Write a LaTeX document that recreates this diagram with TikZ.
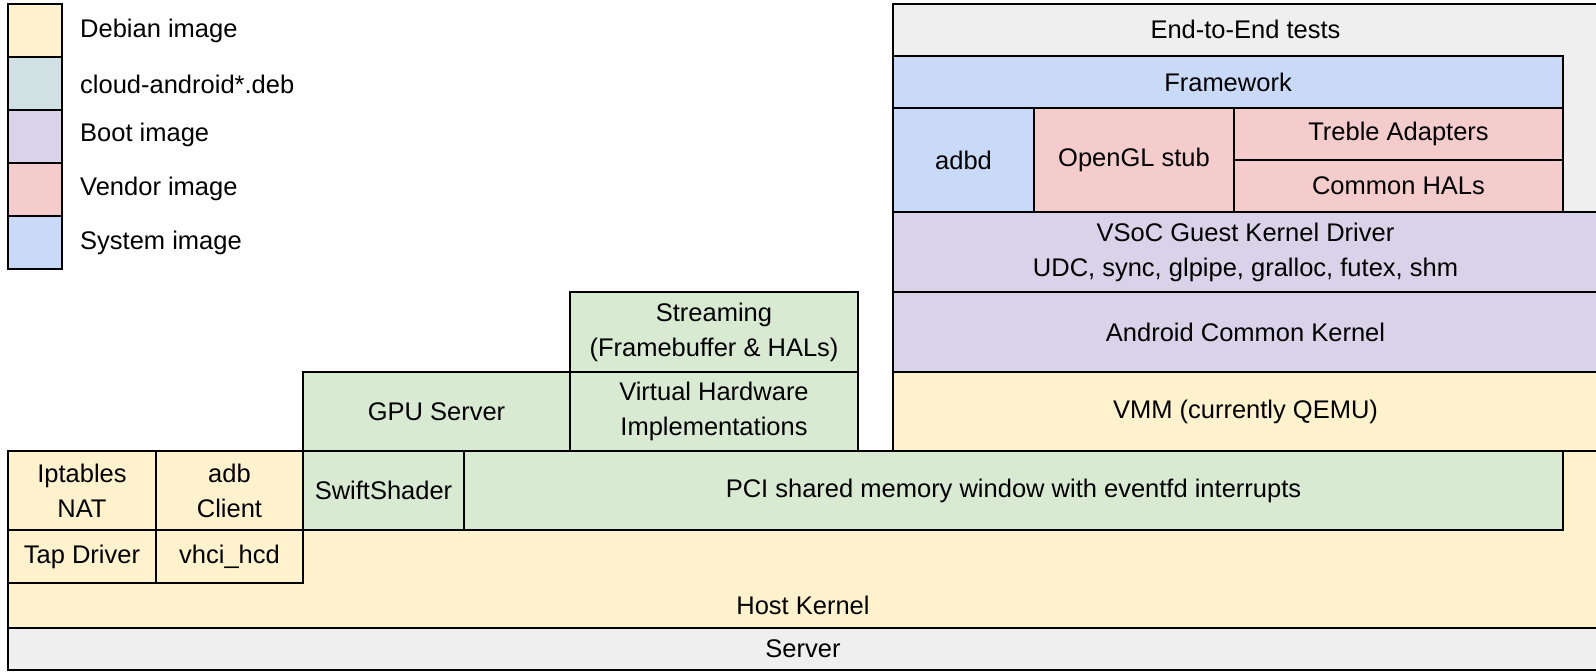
\documentclass[tikz,border=0pt]{standalone}
\usepackage{fontspec}
\setmainfont{Liberation Sans}
\definecolor{debian}{HTML}{FFF2CC}
\definecolor{clouddeb}{HTML}{D0E0E3}
\definecolor{hostpkg}{HTML}{D9EAD3}
\definecolor{boot}{HTML}{D9D2E9}
\definecolor{vendor}{HTML}{F4CCCC}
\definecolor{system}{HTML}{C9DAF8}
\definecolor{misc}{HTML}{EFEFEF}
\begin{document}
\begin{tikzpicture}[x=1pt,y=-1pt,
  blk/.style={draw=black, line width=2.4pt, anchor=north west, inner sep=0pt,
    outer sep=0pt, align=center, font=\fontsize{25.5}{35}\selectfont},
  lbl/.style={inner sep=0pt, font=\fontsize{25.5}{35}\selectfont},
  legtxt/.style={lbl, anchor=west}]
\useasboundingbox (0,0) rectangle (1596,672);

% legend
\node[blk, fill=debian,   minimum width=54pt, minimum height=53pt] (lg1) at (8,4) {};
\node[blk, fill=clouddeb, minimum width=54pt, minimum height=53pt] (lg2) at (8,57) {};
\node[blk, fill=boot,     minimum width=54pt, minimum height=53pt] (lg3) at (8,110) {};
\node[blk, fill=vendor,   minimum width=54pt, minimum height=53pt] (lg4) at (8,163) {};
\node[blk, fill=system,   minimum width=54pt, minimum height=53pt] (lg5) at (8,216) {};
\node[legtxt] (lt1) at (80,31)  {Debian image};
\node[legtxt] (lt2) at (80,84)  {cloud-android*.deb};
\node[legtxt] (lt3) at (80,135) {Boot image};
\node[legtxt] (lt4) at (80,189) {Vendor image};
\node[legtxt] (lt5) at (80,243) {System image};

% host side
\node[blk, fill=misc, minimum width=1590pt, minimum height=42pt] (server) at (8,628) {Server};
\node[blk, fill=debian, minimum width=1590pt, minimum height=177pt] (hk) at (8,451) {};
\node[lbl] (hktxt) at ([yshift=22.5pt]hk.south) {Host Kernel};
\node[blk, fill=debian, minimum width=148pt, minimum height=79pt] (ipt) at (8,451) {Iptables\\NAT};
\node[blk, fill=debian, minimum width=147pt, minimum height=79pt] (adbc) at (156,451) {adb\\Client};
\node[blk, fill=debian, minimum width=148pt, minimum height=53pt] (tap) at (8,530) {Tap Driver};
\node[blk, fill=debian, minimum width=147pt, minimum height=53pt] (vhci) at (156,530) {vhci\_hcd};
\node[blk, fill=hostpkg, minimum width=161pt, minimum height=79pt] (swift) at (303,451) {SwiftShader};
\node[blk, fill=hostpkg, minimum width=1099pt, minimum height=79pt] (pci) at (464,451) {PCI shared memory window with eventfd interrupts};
\node[blk, fill=hostpkg, minimum width=267pt, minimum height=79pt] (gpu) at (303,372) {GPU Server};
\node[blk, fill=hostpkg, minimum width=288pt, minimum height=79pt] (vhw) at (570,372) {Virtual Hardware\\Implementations};
\node[blk, fill=hostpkg, minimum width=288pt, minimum height=80pt] (stream) at (570,292) {Streaming\\(Framebuffer \& HALs)};

% guest side
\node[blk, fill=debian, minimum width=705pt, minimum height=79pt] (vmm) at (893,372) {VMM (currently QEMU)};
\node[blk, fill=boot, minimum width=705pt, minimum height=80pt] (ack) at (893,292) {Android Common Kernel};
\node[blk, fill=boot, minimum width=705pt, minimum height=80pt] (vsoc) at (893,212) {VSoC Guest Kernel Driver\\UDC, sync, glpipe, gralloc, futex, shm};
\node[blk, fill=misc, minimum width=705pt, minimum height=208pt] (e2e) at (893,4) {};
\node[lbl] (e2etxt) at ([yshift=-25pt]e2e.north) {End-to-End tests};
\node[blk, fill=system, minimum width=670pt, minimum height=52pt] (fw) at (893,56) {Framework};
\node[blk, fill=system, minimum width=141pt, minimum height=104pt] (adbd) at (893,108) {adbd};
\node[blk, fill=vendor, minimum width=200pt, minimum height=104pt] (ogl) at (1034,108) {OpenGL stub};
\node[blk, fill=vendor, minimum width=329pt, minimum height=52pt] (treble) at (1234,108) {Treble Adapters};
\node[blk, fill=vendor, minimum width=329pt, minimum height=52pt] (hals) at (1234,160) {Common HALs};
\end{tikzpicture}
\end{document}
